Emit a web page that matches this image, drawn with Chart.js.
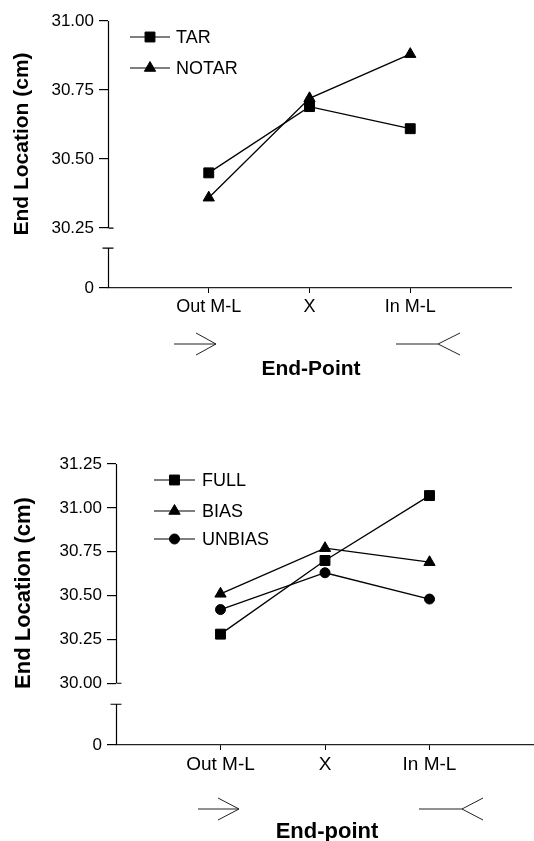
<!DOCTYPE html>
<html>
<head>
<meta charset="utf-8">
<script src="https://cdn.jsdelivr.net/npm/chart.js@4.4.0/dist/chart.umd.min.js"></script>
<style>
  html, body { margin: 0; padding: 0; background: #fff; }
  canvas { position: absolute; left: 0; }
  #topChart { top: 0; }
  #bottomChart { top: 420px; }
</style>
</head>
<body>
<canvas id="topChart" width="534" height="420"></canvas>
<canvas id="bottomChart" width="534" height="421"></canvas>
<script>
// categories (same for both panels)
const endPoints = ['Out M-L', 'X', 'In M-L'];

// upper panel
const tarValues = [30.45, 30.69, 30.61];
const notarValues = [30.36, 30.72, 30.88];
const topTicks = [30.25, 30.50, 30.75, 31.00];

// lower panel
const fullValues = [30.28, 30.70, 31.07];
const biasValues = [30.51, 30.77, 30.69];
const unbiasValues = [30.42, 30.63, 30.48];
const bottomTicks = [30.00, 30.25, 30.50, 30.75, 31.00, 31.25];

const FONT = "'Liberation Sans', Arial, Helvetica, sans-serif";

// empty slot on each side so the categories sit at 1/4, 2/4, 3/4 of the axis
const padded = values => [null, ...values, null];

function drawMarker(ctx, style, radius, x, y) {
    ctx.fillStyle = '#000';
    ctx.strokeStyle = '#000';
    ctx.lineWidth = 1;
    if (Chart.helpers && Chart.helpers.drawPoint) {
        Chart.helpers.drawPoint(ctx, { pointStyle: style, radius: radius, rotation: 0, borderWidth: 1 }, x, y);
        return;
    }
    ctx.beginPath();
    if (style === 'rect') {
        const s = Math.SQRT1_2 * radius;
        ctx.rect(x - s, y - s, 2 * s, 2 * s);
    } else if (style === 'triangle') {
        ctx.moveTo(x, y - radius);
        ctx.lineTo(x + radius * 0.866, y + radius / 2);
        ctx.lineTo(x - radius * 0.866, y + radius / 2);
        ctx.closePath();
    } else {
        ctx.arc(x, y, radius, 0, Math.PI * 2);
    }
    ctx.fill();
    ctx.stroke();
}

function makePanel(id, p) {
    // break in the y axis, legend, titles and direction arrows
    const extras = {
        id: 'extras',
        afterDraw(chart) {
            const ctx = chart.ctx;
            const area = chart.chartArea;
            const y = chart.scales.y;
            const ax = Math.round(area.left) + 0.5;
            const breakPx = y.getPixelForValue(p.ticks[0]);

            ctx.save();
            ctx.strokeStyle = '#000';
            ctx.lineWidth = 1.2;
            ctx.beginPath();
            // upper part of the axis
            ctx.moveTo(ax, area.top);
            ctx.lineTo(ax, breakPx);
            ctx.moveTo(ax, breakPx);
            ctx.lineTo(ax + 5, breakPx);
            // lower part, down to zero
            ctx.moveTo(ax - 6, breakPx + p.gap);
            ctx.lineTo(ax + 5, breakPx + p.gap);
            ctx.moveTo(ax, breakPx + p.gap);
            ctx.lineTo(ax, area.bottom);
            ctx.stroke();

            // legend
            ctx.font = p.legendFont + 'px ' + FONT;
            ctx.textBaseline = 'middle';
            ctx.textAlign = 'left';
            chart.data.datasets.forEach((ds, i) => {
                const ly = p.legend.y[i];
                ctx.strokeStyle = '#000';
                ctx.lineWidth = 1.2;
                ctx.beginPath();
                ctx.moveTo(p.legend.x0, ly);
                ctx.lineTo(p.legend.x1, ly);
                ctx.stroke();
                drawMarker(ctx, ds.pointStyle, ds.pointRadius, (p.legend.x0 + p.legend.x1) / 2, ly);
                ctx.fillStyle = '#000';
                ctx.fillText(ds.label, p.legend.tx, ly + 1);
            });

            // y title
            ctx.fillStyle = '#000';
            ctx.font = 'bold ' + p.titleFont + 'px ' + FONT;
            ctx.save();
            ctx.translate(p.yTitle.x, p.yTitle.y);
            ctx.rotate(-Math.PI / 2);
            ctx.textAlign = 'center';
            ctx.textBaseline = 'middle';
            ctx.fillText('End Location (cm)', 0, 0);
            ctx.restore();

            // x title
            ctx.font = 'bold ' + p.xTitleFont + 'px ' + FONT;
            ctx.textAlign = 'center';
            ctx.textBaseline = 'alphabetic';
            ctx.fillText(p.xTitle.text, p.xTitle.x, p.xTitle.y);

            // arrows
            const a = p.arrows;
            ctx.strokeStyle = '#222';
            ctx.lineWidth = 1;
            ctx.beginPath();
            ctx.moveTo(a.r0, a.y);
            ctx.lineTo(a.r1, a.y);
            ctx.moveTo(a.rb, a.y - a.h);
            ctx.lineTo(a.r1, a.y);
            ctx.lineTo(a.rb, a.y + a.h);
            ctx.moveTo(a.l0, a.y);
            ctx.lineTo(a.l1, a.y);
            ctx.moveTo(a.lb, a.y - a.h);
            ctx.lineTo(a.l1, a.y);
            ctx.lineTo(a.lb, a.y + a.h);
            ctx.stroke();
            ctx.restore();
        }
    };

    return new Chart(document.getElementById(id).getContext('2d'), {
        type: 'line',
        data: {
            labels: ['', ...endPoints, ''],
            datasets: p.series.map(s => ({
                label: s.label,
                data: padded(s.values),
                borderColor: '#000',
                borderWidth: 1.3,
                pointStyle: s.style,
                pointRadius: s.radius,
                pointBackgroundColor: '#000',
                pointBorderColor: '#000',
                pointBorderWidth: 1,
                tension: 0,
                fill: false,
                clip: false
            }))
        },
        options: {
            responsive: false,
            animation: false,
            devicePixelRatio: 1,
            events: [],
            layout: {
                autoPadding: false,
                padding: { top: p.area.top, right: 534 - p.area.right, left: 0, bottom: 0 }
            },
            plugins: { legend: { display: false }, tooltip: { enabled: false } },
            scales: {
                x: {
                    offset: false,
                    afterFit: scale => {
                        scale.height = p.area.xHeight;
                        scale.paddingLeft = 0;
                        scale.paddingRight = 0;
                    },
                    border: { display: true, color: '#222', width: 1.2 },
                    grid: {
                        offset: false,
                        drawOnChartArea: false,
                        tickLength: 5,
                        lineWidth: 1,
                        color: c => (c.tick && c.tick.label ? '#000' : 'rgba(0,0,0,0)')
                    },
                    ticks: {
                        autoSkip: false,
                        maxRotation: 0,
                        padding: 3,
                        color: '#000',
                        font: { family: FONT, size: p.xTickFont }
                    }
                },
                y: {
                    min: p.floor,
                    max: p.ticks[p.ticks.length - 1],
                    afterFit: scale => {
                        scale.width = p.area.left;
                        scale.paddingTop = 0;
                        scale.paddingBottom = 0;
                    },
                    // the bottom tick stands for zero, below the break
                    afterBuildTicks: scale => {
                        scale.ticks = [p.floor, ...p.ticks].map(v => ({ value: v }));
                    },
                    border: { display: false },
                    grid: {
                        drawOnChartArea: false,
                        tickLength: 9,
                        lineWidth: 1.2,
                        color: '#000'
                    },
                    ticks: {
                        padding: 5,
                        color: '#000',
                        font: { family: FONT, size: p.yTickFont },
                        callback: (value, index) => (index === 0 ? '0' : Number(value).toFixed(2))
                    }
                }
            }
        },
        plugins: [extras]
    });
}

makePanel('topChart', {
    series: [
        { label: 'TAR', values: tarValues, style: 'rect', radius: 7 },
        { label: 'NOTAR', values: notarValues, style: 'triangle', radius: 6.5 }
    ],
    ticks: topTicks,
    floor: 30.033,
    gap: 20,
    area: { left: 108, top: 21, right: 511, xHeight: 132 },
    xTickFont: 18,
    yTickFont: 17,
    legendFont: 18,
    titleFont: 21,
    xTitleFont: 21,
    legend: { x0: 130, x1: 170, tx: 176, y: [37, 68] },
    yTitle: { x: 22, y: 144 },
    xTitle: { text: 'End-Point', x: 311, y: 375 },
    arrows: { y: 344, h: 11, r0: 174, r1: 216, rb: 196, l0: 396, l1: 438, lb: 460 }
});

makePanel('bottomChart', {
    series: [
        { label: 'FULL', values: fullValues, style: 'rect', radius: 7 },
        { label: 'BIAS', values: biasValues, style: 'triangle', radius: 6.5 },
        { label: 'UNBIAS', values: unbiasValues, style: 'circle', radius: 5 }
    ],
    ticks: bottomTicks,
    floor: 29.648,
    gap: 21,
    area: { left: 116, top: 44, right: 534, xHeight: 96 },
    xTickFont: 19,
    yTickFont: 17,
    legendFont: 18,
    titleFont: 22,
    xTitleFont: 22,
    legend: { x0: 154, x1: 195, tx: 202, y: [60, 91, 119] },
    yTitle: { x: 24, y: 173 },
    xTitle: { text: 'End-point', x: 327, y: 418 },
    arrows: { y: 389, h: 11, r0: 198, r1: 239, rb: 218, l0: 419, l1: 462, lb: 483 }
});
</script>
</body>
</html>
